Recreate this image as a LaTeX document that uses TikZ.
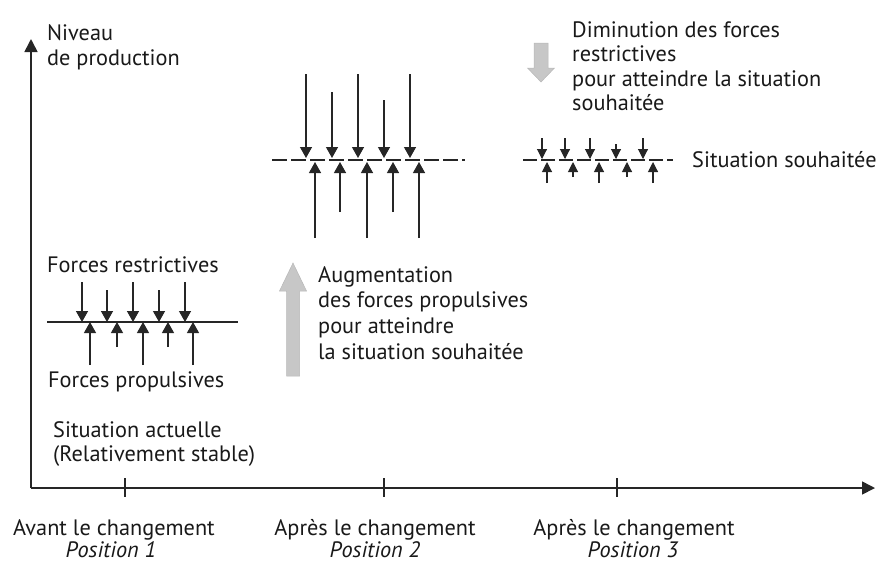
\documentclass[tikz,border=0pt]{standalone}
\usepackage{fontspec}
\setmainfont{PT Sans}
\usetikzlibrary{arrows.meta}
\begin{document}
\begin{tikzpicture}[x=1pt,y=-1pt,
  txt/.style={font=\fontsize{22.3}{25}\selectfont, inner sep=0pt, anchor=base west, text=black!90},
  ctxt/.style={txt, anchor=base},
  axisline/.style={line width=1.6pt, draw=black!85, -{Triangle[width=13pt,length=13pt]}},
  tickline/.style={line width=1.1pt, draw=black!85},
  baseline/.style={line width=1.3pt, draw=black!85},
  force/.style={line width=1.3pt, draw=black!85, -{Triangle[width=12pt,length=11pt]}},
  smallforce/.style={line width=1.1pt, draw=black!85, -{Triangle[width=10pt,length=10pt]}},
  bigarrow/.style={fill=black!22, draw=black!28, line width=0.5pt}]
\useasboundingbox (0,0) rectangle (877,563);

% axes
\coordinate (O) at (31,488);
\coordinate (Ytop) at (31,39);
\coordinate (Xend) at (875,488);
\draw[axisline] (O) -- (Ytop);
\draw[axisline] (O) -- (Xend);
\foreach \x [count=\i] in {125,384,617}{
  \coordinate (t\i a) at (\x,478);
  \coordinate (t\i b) at (\x,497);
  \draw[tickline] (t\i a) -- (t\i b);
}

% axis labels
\node[txt] (niv1) at (47,40) {Niveau};
\node[txt] (niv2) at (47,65) {de production};
\node[ctxt] (p1a) at (114,535) {Avant le changement};
\node[ctxt] (p1b) at (111,557) {\itshape Position 1};
\node[ctxt] (p2a) at (375,535) {Après le changement};
\node[ctxt] (p2b) at (375,557) {\itshape Position 2};
\node[ctxt] (p3a) at (634,535) {Après le changement};
\node[ctxt] (p3b) at (633,557) {\itshape Position 3};

% left cluster (current situation)
\coordinate (L1) at (47,322);
\coordinate (L2) at (238,322);
\draw[baseline] (L1) -- (L2);
\foreach \x/\t [count=\i] in {82/282,107/290,133/282,159/290,185/282}{
  \coordinate (ld\i) at (\x,\t);
  \coordinate (ldt\i) at (\x,322);
  \draw[force] (ld\i) -- (ldt\i);
}
\foreach \x/\b [count=\i] in {90/365,117/347,143/365,168/347,193/365}{
  \coordinate (lu\i) at (\x,\b);
  \coordinate (lut\i) at (\x,322);
  \draw[force] (lu\i) -- (lut\i);
}
\node[txt] (fr) at (47,272) {Forces restrictives};
\node[txt] (fp) at (48,387) {Forces propulsives};
\node[txt] (sa1) at (53,437) {Situation actuelle};
\node[txt] (sa2) at (53,461) {(Relativement stable)};

% middle cluster
\coordinate (M1) at (272,160);
\coordinate (M2) at (465,160);
\draw[baseline, dash pattern=on 15pt off 4pt] (M1) -- (M2);
\foreach \x/\t [count=\i] in {306/74,332/92,358/74,384/100,410/74}{
  \coordinate (md\i) at (\x,\t);
  \coordinate (mdt\i) at (\x,158);
  \draw[force] (md\i) -- (mdt\i);
}
\foreach \x/\b [count=\i] in {315/238,340/212,367/238,393/212,419/238}{
  \coordinate (mu\i) at (\x,\b);
  \coordinate (mut\i) at (\x,162);
  \draw[force] (mu\i) -- (mut\i);
}
\fill[bigarrow] (286.5,376) -- (286.5,291) -- (279.5,291) -- (293,263) -- (306.5,291) -- (299.5,291) -- (299.5,376) -- cycle;
\node[txt] (au1) at (318,282) {Augmentation};
\node[txt] (au2) at (318,307) {des forces propulsives};
\node[txt] (au3) at (318,333) {pour atteindre};
\node[txt] (au4) at (318,359) {la situation souhaitée};

% right cluster
\coordinate (R1) at (523,160);
\coordinate (R2) at (673,160);
\draw[baseline, line width=1.1pt, dash pattern=on 14pt off 4pt] (R1) -- (R2);
\foreach \x/\t [count=\i] in {542/138,565/138,590/138,616/144,643/138}{
  \coordinate (rd\i) at (\x,\t);
  \coordinate (rdt\i) at (\x,159);
  \draw[smallforce] (rd\i) -- (rdt\i);
}
\foreach \x/\b [count=\i] in {547/183,573/177,599/183,627/177,653/183}{
  \coordinate (ru\i) at (\x,\b);
  \coordinate (rut\i) at (\x,162);
  \draw[smallforce] (ru\i) -- (rut\i);
}
\node[txt] (ss) at (692,167) {Situation souhaitée};
\fill[bigarrow] (534,43) -- (534,68) -- (527.5,68) -- (541,82) -- (554.5,68) -- (548,68) -- (548,43) -- cycle;
\node[txt] (di1) at (572,37) {Diminution des forces};
\node[txt] (di2) at (572,61.5) {restrictives};
\node[txt] (di3) at (572,86) {pour atteindre la situation};
\node[txt] (di4) at (572,110) {souhaitée};
\end{tikzpicture}
\end{document}
